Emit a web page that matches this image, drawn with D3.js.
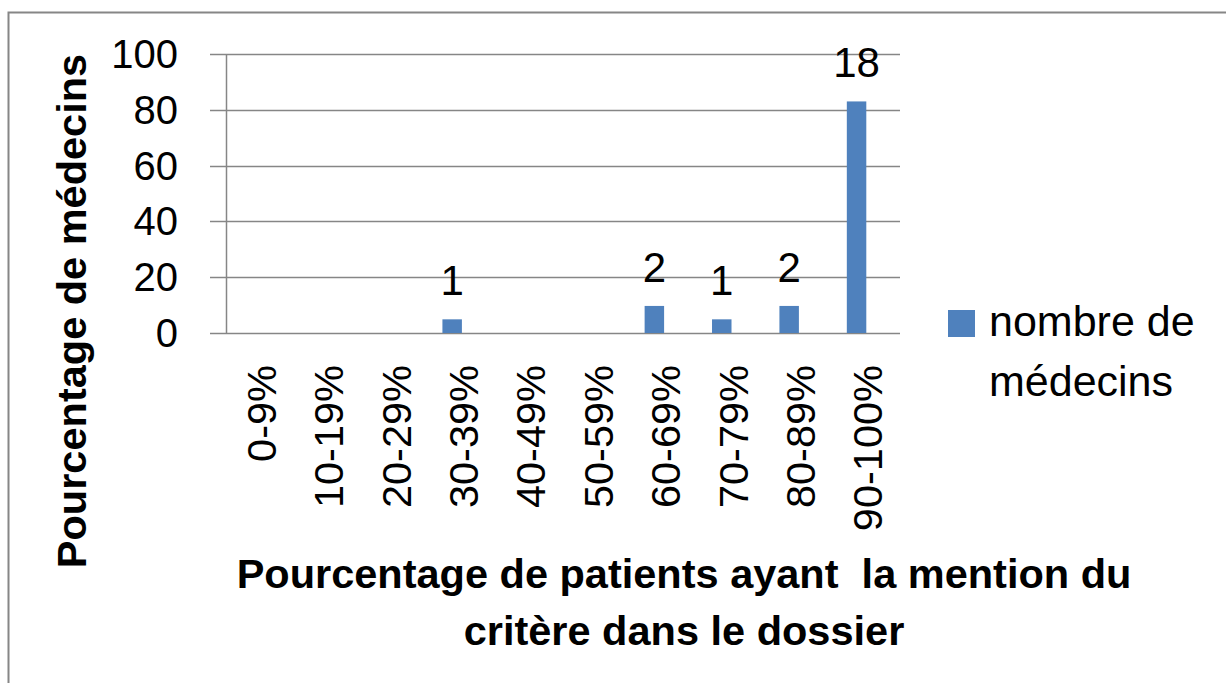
<!DOCTYPE html>
<html>
<head>
<meta charset="utf-8">
<script src="https://d3js.org/d3.v7.min.js"></script>
<style>
  body { margin: 0; background: #fff; }
  svg { display: block; font-family: "Liberation Sans", Arial, sans-serif; }
</style>
</head>
<body>
<div id="chart"></div>
<script>
// data
const categories = ["0-9%", "10-19%", "20-29%", "30-39%", "40-49%", "50-59%", "60-69%", "70-79%", "80-89%", "90-100%"];
const percentValues = [0, 0, 0, 4.9, 0, 0, 9.7, 4.9, 9.7, 83.0];
const countLabels = [0, 0, 0, 1, 0, 0, 2, 1, 2, 18];
const yTicks = [0, 20, 40, 60, 80, 100];
const seriesNames = ["nombre de médecins", "hidden"];

const width = 1226, height = 683;
const plot = {left: 226, right: 900, top: 54, bottom: 333};
const barColor = "#4F81BD";
const gridColor = "#868686";

const svg = d3.select("#chart").append("svg")
    .attr("width", width)
    .attr("height", height);

// outer chart border
svg.append("rect")
    .attr("x", 8.5)
    .attr("y", 12.5)
    .attr("width", 1300)
    .attr("height", 800)
    .attr("fill", "none")
    .attr("stroke", gridColor)
    .attr("stroke-width", 2);

const x = d3.scaleBand()
    .domain(categories)
    .range([plot.left, plot.right]);

// clustered bars, second series is empty (explains the left offset of the bars)
const xSub = d3.scaleBand()
    .domain(seriesNames)
    .range([0, x.bandwidth()])
    .paddingOuter(0.73);

const y = d3.scaleLinear()
    .domain([0, 100])
    .range([plot.bottom, plot.top]);

// gridlines + left tick marks
svg.append("g")
    .selectAll("line")
    .data(yTicks)
    .join("line")
    .attr("x1", plot.left - 16)
    .attr("x2", plot.right)
    .attr("y1", d => Math.round(y(d)) + 0.5)
    .attr("y2", d => Math.round(y(d)) + 0.5)
    .attr("stroke", gridColor)
    .attr("stroke-width", 1.5);

// y axis line
svg.append("line")
    .attr("x1", plot.left + 0.5)
    .attr("x2", plot.left + 0.5)
    .attr("y1", plot.top)
    .attr("y2", plot.bottom)
    .attr("stroke", gridColor)
    .attr("stroke-width", 1.5);

// y tick labels
svg.append("g")
    .selectAll("text")
    .data(yTicks)
    .join("text")
    .attr("x", 178)
    .attr("y", d => y(d))
    .attr("dy", "0.35em")
    .attr("text-anchor", "end")
    .style("font-size", "40px")
    .text(d => d);

// bars
const barData = categories.map((c, i) => ({cat: c, value: percentValues[i], count: countLabels[i]}));

svg.append("g")
    .selectAll("rect")
    .data(barData.filter(d => d.value > 0))
    .join("rect")
    .attr("x", d => x(d.cat) + xSub(seriesNames[0]))
    .attr("y", d => y(d.value))
    .attr("width", xSub.bandwidth())
    .attr("height", d => y(0) - y(d.value))
    .attr("fill", barColor);

// data labels (counts)
svg.append("g")
    .selectAll("text")
    .data(barData.filter(d => d.count > 0))
    .join("text")
    .attr("x", d => x(d.cat) + xSub(seriesNames[0]) + xSub.bandwidth() / 2)
    .attr("y", d => y(d.value) - 24)
    .attr("text-anchor", "middle")
    .style("font-size", "42px")
    .text(d => d.count);

// x tick labels, rotated
svg.append("g")
    .selectAll("text")
    .data(categories)
    .join("text")
    .attr("transform", d => `translate(${x(d) + x.bandwidth() / 2 + 16}, 365) rotate(-90)`)
    .attr("text-anchor", "end")
    .style("font-size", "41.5px")
    .text(d => d);

// y axis title
svg.append("text")
    .attr("transform", "translate(86, 311) rotate(-90)")
    .attr("text-anchor", "middle")
    .style("font-size", "41.5px")
    .style("font-weight", "bold")
    .text("Pourcentage de médecins");

// x axis title (two lines)
const xTitle = ["Pourcentage de patients ayant  la mention du", "critère dans le dossier"];
svg.append("g")
    .selectAll("text")
    .data(xTitle)
    .join("text")
    .attr("x", 684)
    .attr("y", (d, i) => 588 + i * 57)
    .attr("text-anchor", "middle")
    .style("font-size", "41.5px")
    .style("font-weight", "bold")
    .style("white-space", "pre")
    .text(d => d);

// legend
const legend = svg.append("g");
legend.append("rect")
    .attr("x", 948)
    .attr("y", 310)
    .attr("width", 27)
    .attr("height", 27)
    .attr("fill", barColor);
legend.selectAll("text")
    .data(["nombre de", "médecins"])
    .join("text")
    .attr("x", 989)
    .attr("y", (d, i) => 336 + i * 60)
    .style("font-size", "43px")
    .text(d => d);
</script>
</body>
</html>
